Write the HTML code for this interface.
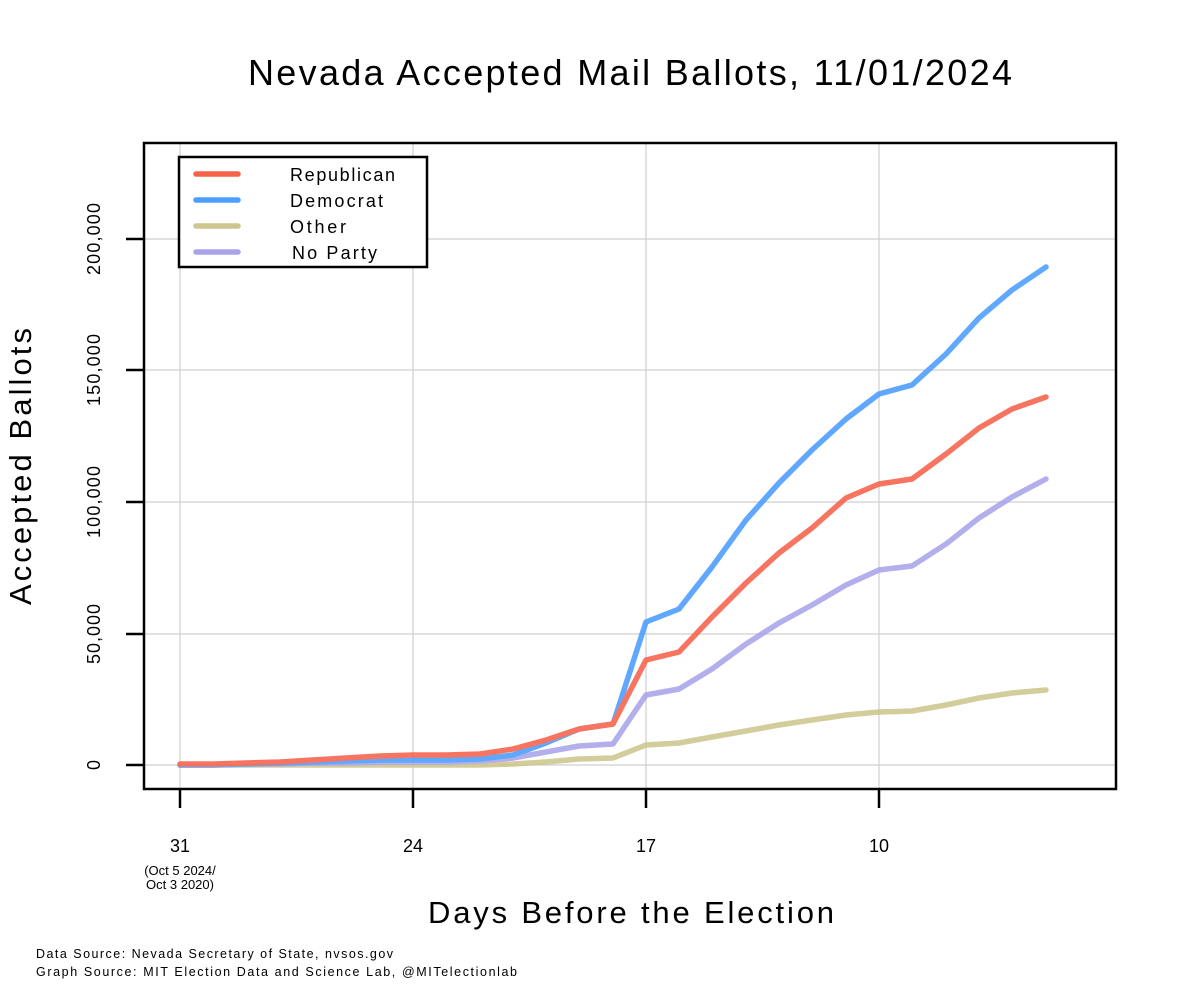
<!DOCTYPE html>
<html><head><meta charset="utf-8"><style>
body{margin:0;background:#fff;}
svg{display:block;font-family:"Liberation Sans",sans-serif;}
</style></head><body>
<svg width="1190" height="1000" viewBox="0 0 1190 1000" xmlns="http://www.w3.org/2000/svg">
<rect width="1190" height="1000" fill="#fff"/>
<text x="248" y="85" font-size="36" textLength="764" lengthAdjust="spacing" fill="#000">Nevada Accepted Mail Ballots, 11/01/2024</text>
<g stroke="#cfcfcf" stroke-width="1.2">
<line x1="180" y1="143" x2="180" y2="789"/><line x1="413" y1="143" x2="413" y2="789"/>
<line x1="646" y1="143" x2="646" y2="789"/><line x1="879" y1="143" x2="879" y2="789"/>
<line x1="144" y1="765" x2="1116" y2="765"/><line x1="144" y1="634" x2="1116" y2="634"/>
<line x1="144" y1="502" x2="1116" y2="502"/><line x1="144" y1="370" x2="1116" y2="370"/>
<line x1="144" y1="239" x2="1116" y2="239"/>
</g>
<g fill="none" stroke-width="5.5" stroke-linejoin="round" stroke-linecap="round" opacity="0.88">
<polyline stroke="#cdc68e" points="180,765 213,765 246,765 280,765 313,765 346,765 380,765 413,765 446,765 480,765 513,764 546,762 579,759 613,758 646,745 679,743 712,737 746,731 779,725 812,720 846,715 879,712 912,711 946,705 979,698 1012,693 1046,690"/>
<polyline stroke="#a9a3ea" points="180,765 213,765 246,764 280,764 313,763 346,763 380,762 413,762 446,762 480,761 513,758 546,752 579,746 613,744 646,695 679,689 712,669 746,644 779,623 812,605 846,585 879,570 912,566 946,544 979,518 1012,497 1046,479"/>
<polyline stroke="#4b9dff" points="180,765 213,765 246,764 280,763 313,762 346,761 380,760 413,760 446,760 480,759 513,755 546,743 579,729 613,724 646,622 679,609 712,567 746,520 779,483 812,450 846,419 879,394 912,385 946,354 979,318 1012,290 1046,267"/>
<polyline stroke="#f6634b" points="180,764 213,764 246,763 280,762 313,760 346,758 380,756 413,755 446,755 480,754 513,749 546,740 579,729 613,724 646,660 679,652 712,617 746,583 779,553 812,528 846,498 879,484 912,479 946,454 979,428 1012,409 1046,397"/>
</g>
<rect x="144" y="143" width="972" height="646" fill="none" stroke="#000" stroke-width="2.5"/>
<g stroke="#000" stroke-width="2.5">
<line x1="180" y1="789" x2="180" y2="808"/><line x1="413" y1="789" x2="413" y2="808"/>
<line x1="646" y1="789" x2="646" y2="808"/><line x1="879" y1="789" x2="879" y2="808"/>
<line x1="126" y1="765" x2="144" y2="765"/><line x1="126" y1="634" x2="144" y2="634"/>
<line x1="126" y1="502" x2="144" y2="502"/><line x1="126" y1="370" x2="144" y2="370"/>
<line x1="126" y1="239" x2="144" y2="239"/>
</g>
<g font-size="18" text-anchor="middle" fill="#000">
<text x="180" y="852">31</text><text x="413" y="852">24</text><text x="646" y="852">17</text><text x="879" y="852">10</text>
<text x="180" y="875" font-size="13">(Oct 5 2024/</text><text x="180" y="889" font-size="13">Oct 3 2020)</text>
<text transform="translate(100,765) rotate(-90)">0</text>
<text transform="translate(100,634) rotate(-90)" textLength="60">50,000</text>
<text transform="translate(100,502) rotate(-90)" textLength="72">100,000</text>
<text transform="translate(100,370) rotate(-90)" textLength="72">150,000</text>
<text transform="translate(100,239) rotate(-90)" textLength="72">200,000</text>
</g>
<text x="428" y="923" font-size="31" textLength="406" lengthAdjust="spacing">Days Before the Election</text>
<text transform="translate(31,605) rotate(-90)" font-size="31" textLength="277" lengthAdjust="spacing">Accepted Ballots</text>
<rect x="179" y="157" width="248" height="110" fill="#fff" stroke="#000" stroke-width="2.5"/>
<g stroke-width="5.5" stroke-linecap="round">
<line x1="196" y1="174" x2="238" y2="174" stroke="#f6634b"/>
<line x1="196" y1="200" x2="238" y2="200" stroke="#4b9dff"/>
<line x1="196" y1="226" x2="238" y2="226" stroke="#cdc68e"/>
<line x1="196" y1="252" x2="238" y2="252" stroke="#a9a3ea"/>
</g>
<g font-size="18" fill="#000">
<text x="290" y="181" textLength="105">Republican</text><text x="290" y="207" textLength="93">Democrat</text>
<text x="290" y="233" textLength="56">Other</text><text x="292" y="259" textLength="85">No Party</text>
</g>
<g font-size="12.5" fill="#000">
<text x="36" y="958" textLength="357">Data Source: Nevada Secretary of State, nvsos.gov</text>
<text x="36" y="976" textLength="481">Graph Source: MIT Election Data and Science Lab, @MITelectionlab</text>
</g>
</svg>
</body></html>
